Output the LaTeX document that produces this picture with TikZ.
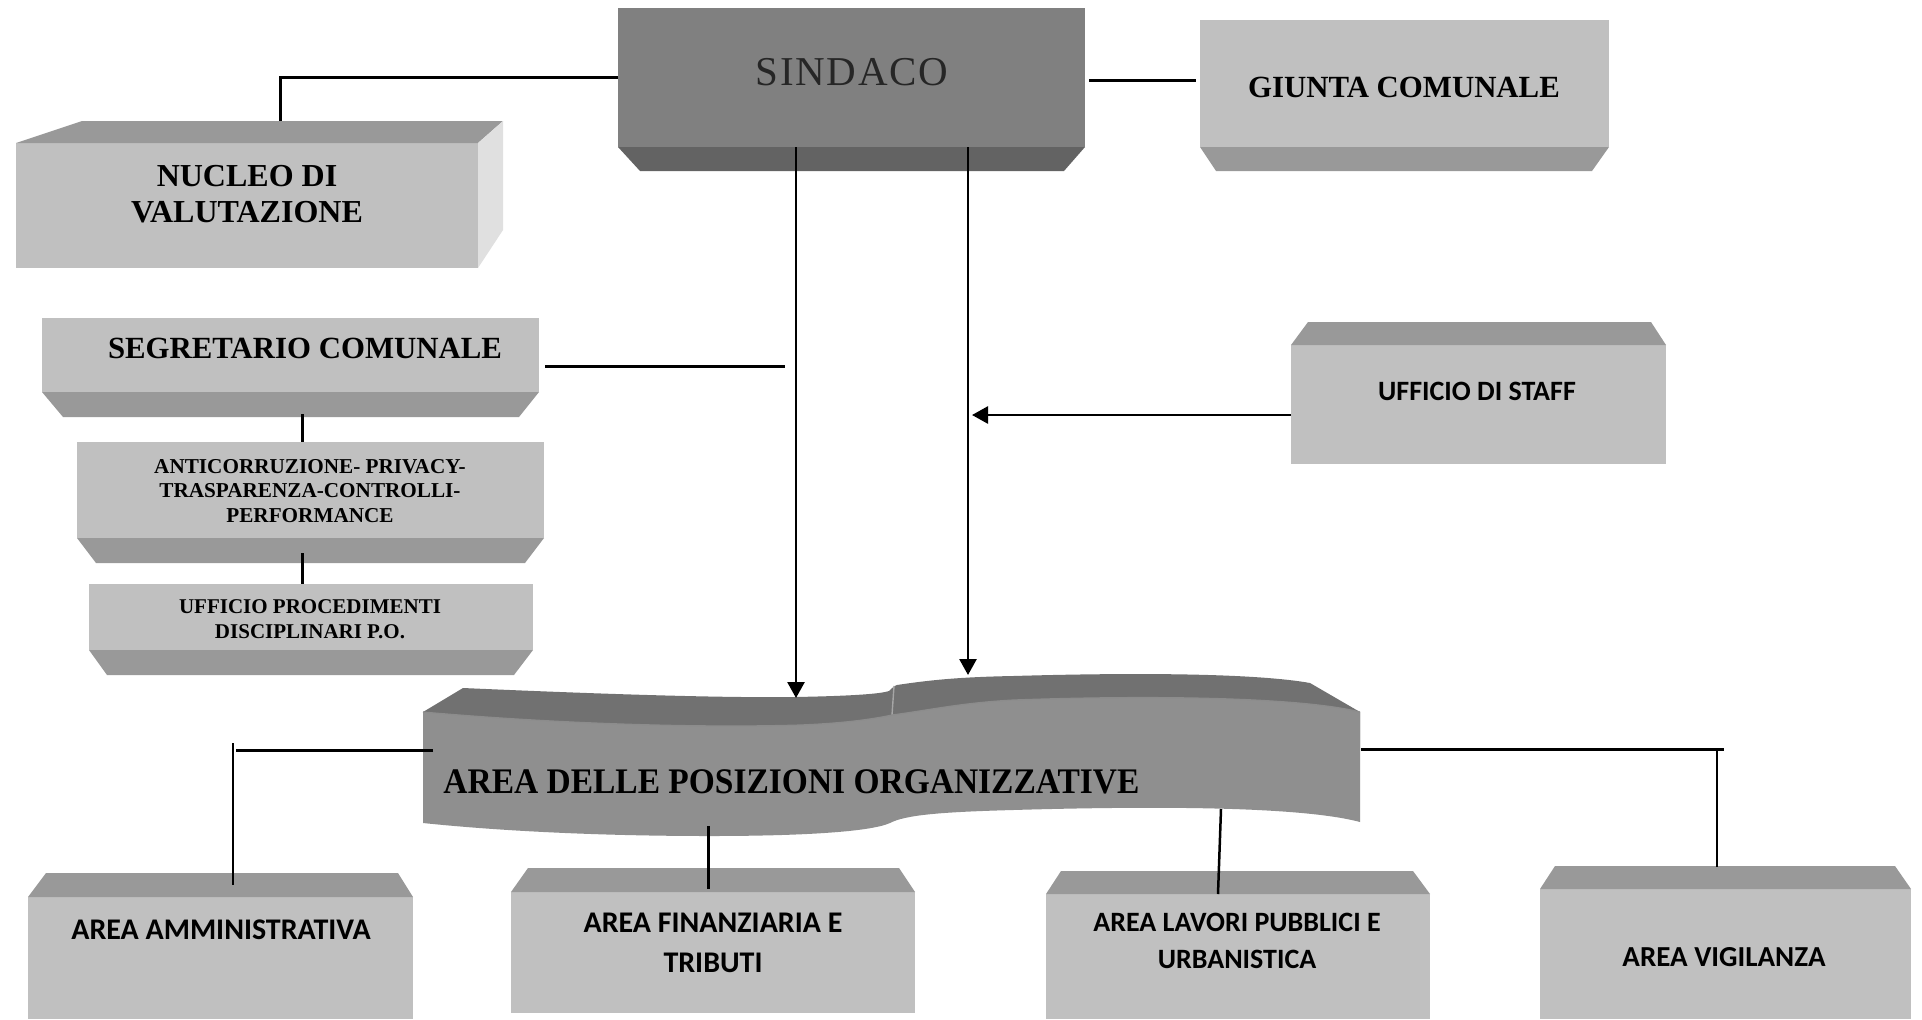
\documentclass[tikz,border=0pt]{standalone}
\usepackage{fontspec}
\setmainfont{Liberation Serif}
\newfontfamily\calib{Carlito}
\newfontfamily\bannerfont{Liberation Serif}[FakeStretch=0.93]
\usetikzlibrary{arrows.meta,calc}
\definecolor{frontc}{HTML}{C0C0C0}
\definecolor{facec}{HTML}{999999}
\definecolor{sidec}{HTML}{E0E0E0}
\definecolor{sinfront}{HTML}{808080}
\definecolor{sinface}{HTML}{636363}
\definecolor{banfront}{HTML}{8F8F8F}
\definecolor{bantop}{HTML}{717171}
\begin{document}
\begin{tikzpicture}[x=0.5pt,y=-0.5pt,
  front/.style 2 args={fill=frontc,draw=none,inner sep=0,outer sep=0,minimum width=#1,minimum height=#2},
  face/.style={fill=facec,draw=none},
  serifb/.style={inner sep=0,anchor=north,align=center,text=black},
  conn/.style={line width=1.5pt,black},
  connthin/.style={line width=1.25pt,black},
  arr/.style={line width=1.35pt,black,-{Triangle[length=8pt,width=8.5pt]}}]
\useasboundingbox (0,0) rectangle (1922,1019);
\fill[white] (0,0) rectangle (1922,1019);

% ---------- NUCLEO DI VALUTAZIONE ----------
\node[front={231pt}{62.5pt}] (nucleo) at (247,205.5) {};
\fill[face] (nucleo.north west) -- ++(66,-22) -- ($(nucleo.north east)+(25,-22)$) -- (nucleo.north east) -- cycle;
\fill[sidec] (nucleo.north east) -- ++(25,-22) -- ($(nucleo.south east)+(25,-38)$) -- (nucleo.south east) -- cycle;
\node[serifb,font=\bfseries\fontsize{16}{18}\selectfont] (nucleo-t) at (247,165) {NUCLEO DI\\VALUTAZIONE};

% ---------- SINDACO ----------
\node[front={233.5pt}{69.5pt},fill=sinfront] (sindaco) at (851.5,77.5) {};
\fill[sinface] (sindaco.south west) -- (sindaco.south east) -- ++(-21,24) -- ($(sindaco.south west)+(22,24)$) -- cycle;
\node[inner sep=0,anchor=base,text=black!85,font=\fontsize{20.5}{24}\selectfont\addfontfeature{LetterSpace=4}] (sindaco-t) at (852,85) {SINDACO};

% ---------- GIUNTA COMUNALE ----------
\node[front={204.5pt}{63.5pt}] (giunta) at (1404.5,83.5) {};
\fill[face] (giunta.south west) -- (giunta.south east) -- ++(-17,24) -- ($(giunta.south west)+(16,24)$) -- cycle;
\node[serifb,font=\bfseries\fontsize{15.4}{18}\selectfont] (giunta-t) at (1404,77) {GIUNTA COMUNALE};

% ---------- SEGRETARIO COMUNALE ----------
\node[front={248.5pt}{37pt}] (segr) at (290.5,355) {};
\fill[face] (segr.south west) -- (segr.south east) -- ++(-20,25) -- ($(segr.south west)+(21,25)$) -- cycle;
\node[serifb,font=\bfseries\fontsize{15.4}{18}\selectfont] (segr-t) at (305,338) {SEGRETARIO COMUNALE};

% ---------- ANTICORRUZIONE ----------
\node[front={233.5pt}{48pt}] (anti) at (310.5,490) {};
\fill[face] (anti.south west) -- (anti.south east) -- ++(-19,25) -- ($(anti.south west)+(19,25)$) -- cycle;
\node[serifb,font=\bfseries\fontsize{10.6}{12.2}\selectfont] (anti-t) at (310,459) {ANTICORRUZIONE- PRIVACY-\\TRASPARENZA-CONTROLLI-\\PERFORMANCE};

% ---------- UFFICIO PROCEDIMENTI ----------
\node[front={222pt}{33pt}] (proc) at (311,617) {};
\fill[face] (proc.south west) -- (proc.south east) -- ++(-19,25) -- ($(proc.south west)+(18,25)$) -- cycle;
\node[serifb,font=\bfseries\fontsize{10.5}{12.5}\selectfont] (proc-t) at (310,599) {UFFICIO PROCEDIMENTI\\DISCIPLINARI P.O.};

% ---------- UFFICIO DI STAFF ----------
\node[front={187.5pt}{59.5pt}] (staff) at (1478.5,404.5) {};
\fill[face] (staff.north west) -- ++(17,-23) -- ($(staff.north east)+(-15,-23)$) -- (staff.north east) -- cycle;
\node[serifb,font=\calib\bfseries\fontsize{14}{17}\selectfont] (staff-t) at (1477,382) {UFFICIO DI STAFF};

% ---------- AREA DELLE POSIZIONI ORGANIZZATIVE (banner) ----------
\fill[bantop] (423,712) -- (463,688)
  .. controls (600,694) and (720,698) .. (795,697)
  .. controls (850,696) and (880,694) .. (889,691)
  .. controls (892,689) and (893,686) .. (897,685)
  .. controls (930,680) and (960,677) .. (1013,676)
  .. controls (1150,672) and (1260,674) .. (1310,683)
  -- (1360,712) -- (1360,750) -- (423,750) -- cycle;
\fill[banfront] (423,712)
  .. controls (560,724) and (700,728) .. (800,725)
  .. controls (850,723) and (878,718) .. (892,715)
  .. controls (930,710) and (960,703) .. (1013,700)
  .. controls (1150,695) and (1300,697) .. (1360,712)
  -- (1360,822)
  .. controls (1300,806) and (1150,806) .. (1013,810)
  .. controls (940,812) and (905,815) .. (890,823)
  .. controls (870,832) and (800,836) .. (710,836)
  .. controls (600,836) and (500,831) .. (423,823) -- cycle;
\draw[line width=0.7pt,black!35] (894,686) -- (892,715);
\draw[line width=0.6pt,black!45] (423,712)
  .. controls (560,724) and (700,728) .. (800,725)
  .. controls (850,723) and (878,718) .. (892,715)
  .. controls (930,710) and (960,703) .. (1013,700)
  .. controls (1150,695) and (1300,697) .. (1360,712);
\node[inner sep=0,anchor=base west,text=black,font=\bannerfont\bfseries\fontsize{18}{22}\selectfont] (area-t) at (443,793) {AREA DELLE POSIZIONI ORGANIZZATIVE};

% ---------- bottom areas ----------
\node[front={192.5pt}{61pt}] (amm) at (220.5,958) {};
\fill[face] (amm.north west) -- ++(18,-24) -- ($(amm.north east)+(-15,-24)$) -- (amm.north east) -- cycle;
\node[serifb,font=\calib\bfseries\fontsize{15}{18}\selectfont] (amm-t) at (221,919) {AREA AMMINISTRATIVA};

\node[front={202pt}{60.5pt}] (fin) at (713,952.5) {};
\fill[face] (fin.north west) -- ++(17,-24) -- ($(fin.north east)+(-16,-24)$) -- (fin.north east) -- cycle;
\node[serifb,font=\calib\bfseries\fontsize{15}{20}\selectfont] (fin-t) at (713,913) {AREA FINANZIARIA E\\TRIBUTI};

\node[front={192pt}{62.5pt}] (lav) at (1238,956.5) {};
\fill[face] (lav.north west) -- ++(15,-23) -- ($(lav.north east)+(-17,-23)$) -- (lav.north east) -- cycle;
\node[serifb,font=\calib\bfseries\fontsize{14}{18.5}\selectfont] (lav-t) at (1237,913) {AREA LAVORI PUBBLICI E\\URBANISTICA};

\node[front={185.5pt}{65pt}] (vig) at (1725.5,954) {};
\fill[face] (vig.north west) -- ++(15,-23) -- ($(vig.north east)+(-16,-23)$) -- (vig.north east) -- cycle;
\node[serifb,font=\calib\bfseries\fontsize{14.5}{18}\selectfont] (vig-t) at (1724,947) {AREA VIGILANZA};

% ---------- connectors ----------
\coordinate (nucTop) at (280,121);
\draw[conn] (sindaco.west) -| (nucTop);
\draw[conn] ($(sindaco.east)+(4,2.5)$) -- ($(giunta.west |- sindaco.east)+(-4,2.5)$);

\coordinate (tipL) at (796,698);
\coordinate (tipR) at (968,675);
\draw[arr] (sindaco.south -| tipL) -- (tipL);
\draw[arr] (sindaco.south -| tipR) -- (tipR);

\coordinate (tipS) at (972,415);
\draw[arr] (staff.west |- tipS) -- (tipS);

\coordinate (segEnd) at (785,366);
\draw[conn] ($(segr.east |- segEnd)+(6,0)$) -- (segEnd);

\coordinate (segB) at (302,414);
\draw[conn] (segB) -- (segB |- anti.north);
\coordinate (antiB) at (302,553);
\draw[conn] (antiB) -- (antiB |- proc.north);

\coordinate (bL) at (433,750);
\coordinate (bLc) at (236,750);
\coordinate (ammUp) at (233,743);
\coordinate (ammIn) at (233,885);
\draw[conn] (bL) -- (bLc);
\draw[connthin] (ammUp) -- (ammIn);

\coordinate (bB1) at (708,826);
\draw[conn] (bB1) -- ($(bB1 |- fin.north)+(0,-3)$);

\coordinate (bB2) at (1221,809);
\coordinate (lavIn) at (1218,894);
\draw[connthin] (bB2) -- (lavIn);

\coordinate (bR) at (1361,749);
\coordinate (bRc) at (1724,749);
\coordinate (vigUp) at (1717,749);
\coordinate (vigIn) at (1717,867);
\draw[conn] (bR) -- (bRc);
\draw[connthin] (vigUp) -- (vigIn);
\end{tikzpicture}
\end{document}
